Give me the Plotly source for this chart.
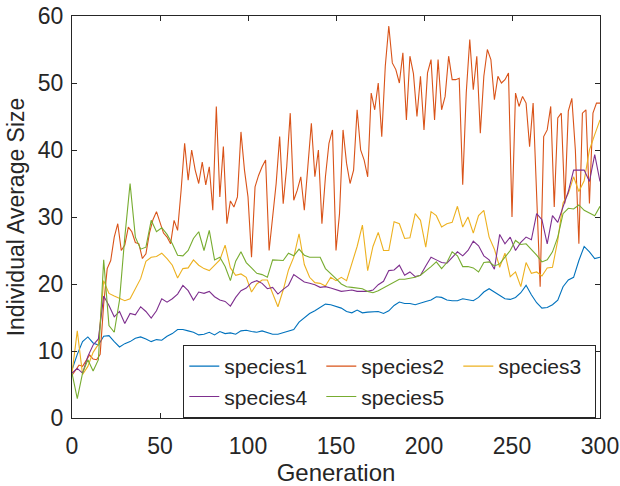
import plotly.graph_objects as go

# Generation grids
gens3 = list(range(0, 301, 3))
gens2 = list(range(0, 301, 2))

species1 = [
    7.2, 9.5, 11.4, 12.1, 11.2, 10.9, 12.2, 12.3, 11.4, 10.6,
    11.1, 11.4, 11.9, 12.1, 11.8, 11.4, 11.7, 11.6, 12.2, 12.6,
    13.2, 13.2, 13.0, 12.8, 12.4, 12.5, 12.8, 12.4, 12.9, 12.6,
    12.7, 12.5, 13.0, 13.1, 12.9, 12.8, 13.0, 12.7, 12.5, 12.5,
    12.7, 12.9, 13.2, 14.3, 15.0, 15.6, 16.0, 16.5, 17.0, 16.9,
    16.6, 16.4, 15.9, 15.7, 16.1, 15.7, 15.8, 15.9, 15.9, 15.6,
    16.0, 16.8, 17.3, 17.1, 17.1, 16.9, 17.2, 17.4, 17.6, 18.1,
    18.0, 17.6, 17.5, 17.5, 17.8, 17.6, 17.5, 18.0, 18.8, 19.3,
    18.8, 18.4, 17.8, 17.7, 18.0, 18.7, 19.8, 18.4, 17.2, 16.4,
    16.5, 16.9, 17.6, 19.6, 20.6, 21.0, 23.5, 25.6, 24.8, 23.8,
    24.0,
]

species2 = [
    6.4, 7.2, 7.9, 7.7, 8.5, 9.4, 8.8, 8.7, 9.5, 17.0,
    22.3, 23.5, 27.0, 29.0, 25.0, 25.8, 28.5, 27.8, 26.2, 26.0,
    23.8, 24.5, 27.6, 29.6, 30.8, 29.3, 27.6, 27.0, 26.0, 29.5,
    28.0, 34.0, 41.0, 35.5, 40.0, 37.0, 35.0, 38.2, 34.8, 37.5,
    31.0, 46.5, 33.0, 40.5, 29.0, 32.4, 31.5, 33.0, 42.7, 37.0,
    33.0, 24.0, 34.5, 36.2, 37.5, 38.5, 25.0, 30.0, 35.0, 42.0,
    32.0, 37.5, 45.5, 32.5, 34.0, 36.0, 31.0, 37.5, 44.0, 36.0,
    40.0, 29.0, 36.0, 41.0, 43.0, 25.0, 30.5, 43.0, 38.0, 35.0,
    37.0, 46.0, 40.0, 38.5, 36.0, 48.5, 46.0, 50.0, 42.0, 52.5,
    58.5, 53.0, 52.0, 50.0, 54.5, 44.5, 54.0, 51.4, 45.0, 51.0,
    43.0, 51.5, 53.5, 44.5, 53.5, 46.0, 48.0, 54.0, 50.5, 50.5,
    50.7, 34.8, 48.5, 56.5, 49.0, 54.0, 42.5, 51.0, 55.0, 53.5,
    47.5, 51.0, 50.0, 50.5, 51.5, 30.0, 48.5, 46.5, 48.0, 47.0,
    40.5, 47.0, 33.0, 19.6, 42.0, 43.0, 46.5, 31.5, 44.8, 45.5,
    32.0, 45.8, 47.7, 40.0, 26.0, 45.5, 46.0, 32.0, 45.5, 47.0,
    47.0,
]

species3 = [
    6.7, 13.0, 6.5, 7.7, 9.8, 11.0, 20.5, 18.6, 18.2, 17.8,
    17.5, 17.8, 19.4, 20.8, 23.4, 24.0, 24.1, 24.6, 23.8, 22.8,
    20.9, 22.3, 22.4, 23.6, 22.8, 22.3, 22.0, 22.8, 23.6, 25.8,
    22.4, 21.3, 21.5, 21.0, 18.8, 20.0, 20.6, 20.6, 18.6, 16.6,
    19.1, 22.1, 24.0, 27.5, 22.9, 21.0, 20.2, 20.1, 19.7, 21.0,
    20.5, 21.0, 20.5, 23.0, 25.6, 28.8, 22.0, 25.6, 27.7, 25.0,
    25.0, 29.3, 29.0, 26.8, 26.9, 30.5, 29.5, 25.5, 30.8, 30.2,
    28.5, 29.0, 29.2, 31.6, 28.5, 30.0, 27.6, 30.2, 31.0, 27.0,
    25.2, 22.5, 24.6, 21.1, 21.8, 19.6, 23.2, 21.6, 21.8, 21.2,
    22.4, 22.5, 26.5, 32.1, 33.5, 36.0, 33.8, 35.4, 40.0, 42.3,
    44.5,
]

species4 = [
    6.7, 7.4, 6.7, 9.2, 10.9, 11.8, 18.2, 16.8, 15.1, 15.9,
    14.1, 15.6, 15.4, 16.6, 15.9, 14.9, 16.0, 17.8, 17.3, 17.8,
    18.5, 19.8, 19.0, 17.6, 18.8, 18.6, 18.9, 18.1, 17.6, 17.4,
    16.7, 18.0, 19.0, 19.4, 20.2, 20.5, 20.1, 19.3, 19.5, 18.5,
    19.2, 19.8, 21.4, 20.9, 20.3, 20.1, 19.9, 19.5, 19.6, 19.4,
    19.1, 18.9, 19.0, 19.1, 18.9, 18.9, 18.9, 19.1, 19.9, 20.4,
    22.0, 22.1, 22.8, 21.3, 21.8, 21.1, 21.3, 22.7, 24.0, 23.6,
    23.2, 23.1, 24.0, 24.8, 24.2, 25.0, 26.4, 25.7, 24.2, 23.6,
    22.2, 27.4, 26.0, 27.0, 25.0, 26.2, 27.0, 26.6, 30.5, 29.6,
    26.0, 30.2, 29.2, 31.5, 33.8, 37.0, 37.0, 37.0, 35.3, 39.3,
    35.3,
]

species5 = [
    6.7, 2.9, 6.7, 8.7, 7.0, 8.7, 23.6, 13.8, 12.8, 17.6,
    27.0, 35.0, 27.0, 25.2, 25.5, 29.5, 27.8, 28.4, 27.4, 26.0,
    24.3, 24.2, 25.0, 26.8, 27.8, 25.0, 28.0, 23.6, 24.0, 22.6,
    20.5, 23.4, 24.8, 23.2, 22.4, 21.6, 21.4, 21.0, 23.6, 23.5,
    23.5, 24.6, 24.2, 25.2, 24.3, 24.0, 24.0, 24.0, 22.3, 21.6,
    20.8, 20.0, 19.6, 19.5, 19.4, 19.3, 18.9, 18.7, 19.0, 19.4,
    19.8, 20.3, 20.7, 20.7, 20.8, 21.0, 21.3, 21.9, 22.6, 23.3,
    22.3, 23.2, 24.8, 24.2, 22.6, 22.6, 22.4, 21.8, 23.2, 23.3,
    22.7, 23.0, 24.0, 25.0, 26.5, 25.9, 26.0, 25.2, 24.3, 23.3,
    23.6, 24.8, 27.0, 30.5, 31.3, 31.2, 31.8, 31.0, 30.6, 30.2,
    31.6,
]

names = ["species1", "species2", "species3", "species4", "species5"]
colors = ["#0072BD", "#D95319", "#EDB120", "#7E2F8E", "#77AC30"]
series = [(gens3, species1), (gens2, species2), (gens3, species3),
          (gens3, species4), (gens3, species5)]

x_ticks = [0, 50, 100, 150, 200, 250, 300]
y_ticks = [0, 10, 20, 30, 40, 50, 60]

FONT = "Liberation Sans, Arial, Helvetica, sans-serif"
TXT = "#262626"

fig = go.Figure()
for name, col, (xs, ys) in zip(names, colors, series):
    fig.add_trace(go.Scatter(x=xs, y=ys, mode="lines", name=name,
                             line=dict(color=col, width=1.1)))

axis_common = dict(showline=True, linecolor=TXT, linewidth=1, mirror="ticks",
                   ticks="inside", ticklen=5, tickcolor=TXT, showgrid=False,
                   zeroline=False, tickfont=dict(family=FONT, size=23, color=TXT))

fig.update_xaxes(range=[0, 300], tickvals=x_ticks, ticklabelstandoff=7,
                 title=dict(text="Generation", standoff=6,
                            font=dict(family=FONT, size=24, color=TXT)),
                 **axis_common)
fig.update_yaxes(range=[0, 60], tickvals=y_ticks, ticklabelstandoff=3,
                 title=dict(text="Individual Average Size", standoff=6,
                            font=dict(family=FONT, size=23, color=TXT)),
                 **axis_common)

fig.update_layout(
    width=620, height=486,
    margin=dict(l=72, r=20, t=16, b=68, autoexpand=False),
    plot_bgcolor="white", paper_bgcolor="white",
    font=dict(family=FONT, size=22, color=TXT),
    showlegend=True,
    legend=dict(orientation="h", x=0.993, xanchor="right", y=0.0, yanchor="bottom",
                bgcolor="white", bordercolor=TXT, borderwidth=1,
                entrywidth=92, entrywidthmode="pixels", tracegroupgap=0,
                itemwidth=30, font=dict(family=FONT, size=21, color=TXT)),
)

fig.write_html("out.html", config={"displayModeBar": False},
               post_script="document.body.style.margin='0';document.body.style.overflow='hidden';")
